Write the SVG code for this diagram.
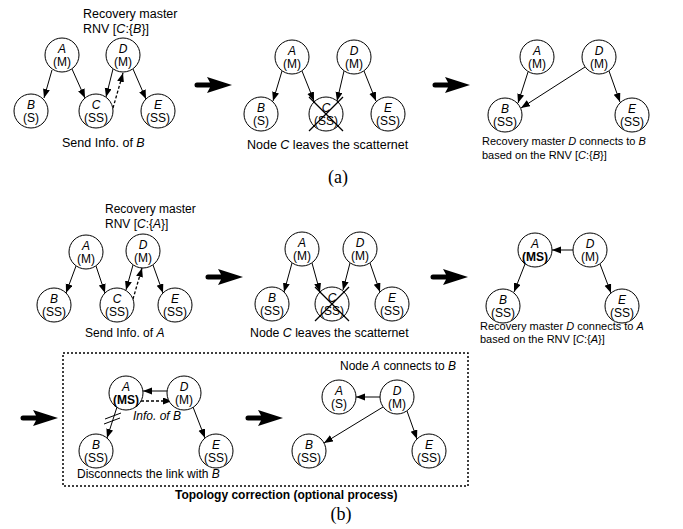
<svg xmlns="http://www.w3.org/2000/svg" xmlns:xlink="http://www.w3.org/1999/xlink" width="683" height="529" viewBox="0 0 683 529">
<style>
  text { font-family: "Liberation Sans", Arial, sans-serif; font-size: 12px; fill: #000; }
  .node circle { fill: #fff; stroke: #000; stroke-width: 1; }
  .node text { text-anchor: middle; }
  .it { font-style: italic; }
  .b { font-weight: bold; }
  .edge { stroke: #000; stroke-width: 1; fill: none; marker-end: url(#ah); }
  .dash { stroke: #000; stroke-width: 1.3; fill: none; stroke-dasharray: 3 2; marker-end: url(#ah); }
  .plain { stroke: #000; stroke-width: 1; fill: none; }
  .big { fill: #000; }
  .cap { font-family: "Liberation Serif", "Times New Roman", serif; font-size: 18px; text-anchor: middle; }
</style>
<defs>
  <marker id="ah" markerUnits="userSpaceOnUse" markerWidth="10" markerHeight="8" refX="9" refY="3.5" orient="auto">
    <path d="M0,0 L9,3.5 L0,7 z" fill="#000"/>
  </marker>
  <path id="bigarrow" d="M0,0 L-25,-8 L-22,-2.5 L-35,-2.5 A2.5,2.5 0 0 0 -35,2.5 L-22,2.5 L-25,8 Z"/>
</defs>

<rect width="683" height="529" fill="#fff"/>

<!-- connectors -->
<g id="connectors">
  <!-- a1 -->
  <line class="edge" x1="52" y1="70" x2="44" y2="98"/>
  <line class="edge" x1="72" y1="69" x2="85" y2="98"/>
  <line class="edge" x1="113" y1="69" x2="106" y2="97"/>
  <line class="edge" x1="133" y1="69" x2="146" y2="99"/>
  <line class="dash" x1="113" y1="108" x2="123" y2="73"/>
  <!-- a2 -->
  <line class="edge" x1="282" y1="71" x2="273" y2="101"/>
  <line class="edge" x1="302" y1="71" x2="314" y2="101"/>
  <line class="edge" x1="344" y1="71" x2="337" y2="101"/>
  <line class="edge" x1="364" y1="71" x2="376" y2="101"/>
  <!-- a3 -->
  <line class="edge" x1="528" y1="72" x2="518" y2="103"/>
  <line class="edge" x1="585" y1="67" x2="521" y2="108"/>
  <line class="edge" x1="609" y1="71" x2="620" y2="102"/>
  <!-- b1 -->
  <line class="edge" x1="76" y1="266" x2="66" y2="293"/>
  <line class="edge" x1="96" y1="266" x2="105" y2="293"/>
  <line class="edge" x1="133" y1="265" x2="126" y2="290"/>
  <line class="edge" x1="153" y1="265" x2="163" y2="293"/>
  <line class="dash" x1="133" y1="299" x2="142" y2="268"/>
  <!-- b2 -->
  <line class="edge" x1="292" y1="263" x2="284" y2="292"/>
  <line class="edge" x1="312" y1="263" x2="320" y2="292"/>
  <line class="edge" x1="350" y1="263" x2="343" y2="290"/>
  <line class="edge" x1="370" y1="263" x2="380" y2="292"/>
  <!-- b3 -->
  <line class="edge" x1="573" y1="250" x2="552" y2="250"/>
  <line class="edge" x1="525" y1="264" x2="514" y2="292"/>
  <line class="edge" x1="600" y1="264" x2="611" y2="293"/>
  <!-- b4 -->
  <line class="edge" x1="167" y1="391" x2="143" y2="391"/>
  <line class="dash" x1="141" y1="401" x2="172" y2="401"/>
  <line class="edge" x1="117" y1="407" x2="107" y2="438"/>
  <line class="plain" x1="105" y1="419" x2="121" y2="413"/>
  <line class="plain" x1="104" y1="424" x2="120" y2="418"/>
  <line class="edge" x1="193" y1="407" x2="205" y2="438"/>
  <!-- b5 -->
  <line class="edge" x1="380" y1="397" x2="356" y2="397"/>
  <line class="edge" x1="383" y1="407" x2="324" y2="443"/>
  <line class="edge" x1="407" y1="411" x2="417" y2="439"/>
</g>

<!-- big step arrows -->
<g id="step-arrows" class="big">
  <use xlink:href="#bigarrow" href="#bigarrow" x="232" y="85"/>
  <use xlink:href="#bigarrow" href="#bigarrow" x="470" y="85"/>
  <use xlink:href="#bigarrow" href="#bigarrow" x="243" y="277"/>
  <use xlink:href="#bigarrow" href="#bigarrow" x="468" y="277"/>
  <use xlink:href="#bigarrow" href="#bigarrow" x="58" y="418"/>
  <use xlink:href="#bigarrow" href="#bigarrow" x="283" y="418"/>
</g>

<!-- ===== (a) panel 1 ===== -->
<g id="a1-A" class="node"><circle cx="62" cy="55" r="17"/><text x="62" y="53" class="it">A</text><text x="62" y="66">(M)</text></g>
<g id="a1-D" class="node"><circle cx="123" cy="55" r="17"/><text x="123" y="53" class="it">D</text><text x="123" y="66">(M)</text></g>
<g id="a1-B" class="node"><circle cx="31" cy="111" r="17"/><text x="31" y="109" class="it">B</text><text x="31" y="122">(S)</text></g>
<g id="a1-C" class="node"><circle cx="96" cy="111" r="17"/><text x="96" y="109" class="it">C</text><text x="96" y="122">(SS)</text></g>
<g id="a1-E" class="node"><circle cx="158" cy="111" r="17"/><text x="158" y="109" class="it">E</text><text x="158" y="122">(SS)</text></g>
<text x="83" y="18" style="font-size:12.5px">Recovery master</text>
<text x="83" y="33" style="font-size:12.5px">RNV [<tspan class="it">C</tspan>:{<tspan class="it">B</tspan>}]</text>
<text x="62" y="147" style="font-size:12.5px">Send Info. of <tspan class="it">B</tspan></text>

<!-- ===== (a) panel 2 ===== -->
<g id="a2-A" class="node"><circle cx="292" cy="57" r="17"/><text x="292" y="55" class="it">A</text><text x="292" y="68">(M)</text></g>
<g id="a2-D" class="node"><circle cx="354" cy="57" r="17"/><text x="354" y="55" class="it">D</text><text x="354" y="68">(M)</text></g>
<g id="a2-B" class="node"><circle cx="261" cy="114" r="17"/><text x="261" y="112" class="it">B</text><text x="261" y="125">(S)</text></g>
<g id="a2-C" class="node"><circle cx="326" cy="114" r="17"/><text x="326" y="112" class="it">C</text><text x="326" y="125">(SS)</text>
  <line class="plain" x1="309" y1="97" x2="343" y2="131" style="stroke-width:1.3"/>
  <line class="plain" x1="343" y1="97" x2="309" y2="131" style="stroke-width:1.3"/></g>
<g id="a2-E" class="node"><circle cx="388" cy="114" r="17"/><text x="388" y="112" class="it">E</text><text x="388" y="125">(SS)</text></g>
<text x="247" y="149" style="font-size:12.5px">Node <tspan class="it">C</tspan> leaves the scatternet</text>

<!-- ===== (a) panel 3 ===== -->
<g id="a3-A" class="node"><circle cx="537" cy="57" r="17"/><text x="537" y="55" class="it">A</text><text x="537" y="68">(M)</text></g>
<g id="a3-D" class="node"><circle cx="599" cy="57" r="17"/><text x="599" y="55" class="it">D</text><text x="599" y="68">(M)</text></g>
<g id="a3-B" class="node"><circle cx="505" cy="115" r="17"/><text x="505" y="113" class="it">B</text><text x="505" y="126">(SS)</text></g>
<g id="a3-E" class="node"><circle cx="632" cy="115" r="17"/><text x="632" y="113" class="it">E</text><text x="632" y="126">(SS)</text></g>
<text x="482" y="145" style="font-size:11px">Recovery master <tspan class="it">D</tspan> connects to <tspan class="it">B</tspan></text>
<text x="482" y="159" style="font-size:11px">based on the RNV [<tspan class="it">C</tspan>:{<tspan class="it">B</tspan>}]</text>

<text class="cap" x="338" y="183">(a)</text>

<!-- ===== (b) panel 1 ===== -->
<g id="b1-A" class="node"><circle cx="86" cy="252" r="17"/><text x="86" y="250" class="it">A</text><text x="86" y="263">(M)</text></g>
<g id="b1-D" class="node"><circle cx="143" cy="251" r="17"/><text x="143" y="249" class="it">D</text><text x="143" y="262">(M)</text></g>
<g id="b1-B" class="node"><circle cx="54" cy="305" r="17"/><text x="54" y="303" class="it">B</text><text x="54" y="316">(SS)</text></g>
<g id="b1-C" class="node"><circle cx="117" cy="305" r="17"/><text x="117" y="303" class="it">C</text><text x="117" y="316">(SS)</text></g>
<g id="b1-E" class="node"><circle cx="175" cy="305" r="17"/><text x="175" y="303" class="it">E</text><text x="175" y="316">(SS)</text></g>
<text x="105" y="213">Recovery master</text>
<text x="105" y="228">RNV [<tspan class="it">C</tspan>:{<tspan class="it">A</tspan>}]</text>
<text x="85" y="337">Send Info. of <tspan class="it">A</tspan></text>

<!-- ===== (b) panel 2 ===== -->
<g id="b2-A" class="node"><circle cx="302" cy="249" r="17"/><text x="302" y="247" class="it">A</text><text x="302" y="260">(M)</text></g>
<g id="b2-D" class="node"><circle cx="360" cy="249" r="17"/><text x="360" y="247" class="it">D</text><text x="360" y="260">(M)</text></g>
<g id="b2-B" class="node"><circle cx="272" cy="304" r="17"/><text x="272" y="302" class="it">B</text><text x="272" y="315">(SS)</text></g>
<g id="b2-C" class="node"><circle cx="332" cy="304" r="17"/><text x="332" y="302" class="it">C</text><text x="332" y="315">(SS)</text>
  <line class="plain" x1="315" y1="287" x2="349" y2="321" style="stroke-width:1.3"/>
  <line class="plain" x1="349" y1="287" x2="315" y2="321" style="stroke-width:1.3"/></g>
<g id="b2-E" class="node"><circle cx="392" cy="304" r="17"/><text x="392" y="302" class="it">E</text><text x="392" y="315">(SS)</text></g>
<text x="250" y="337" style="font-size:12.3px">Node <tspan class="it">C</tspan> leaves the scatternet</text>

<!-- ===== (b) panel 3 ===== -->
<g id="b3-A" class="node"><circle cx="535" cy="250" r="17"/><text x="535" y="248" class="it">A</text><text x="535" y="261" class="b">(MS)</text></g>
<g id="b3-D" class="node"><circle cx="590" cy="250" r="17"/><text x="590" y="248" class="it">D</text><text x="590" y="261">(M)</text></g>
<g id="b3-B" class="node"><circle cx="503" cy="306" r="17"/><text x="503" y="304" class="it">B</text><text x="503" y="317">(SS)</text></g>
<g id="b3-E" class="node"><circle cx="622" cy="306" r="17"/><text x="622" y="304" class="it">E</text><text x="622" y="317">(SS)</text></g>
<text x="480" y="330" style="font-size:11px">Recovery master <tspan class="it">D</tspan> connects to <tspan class="it">A</tspan></text>
<text x="480" y="343" style="font-size:11px">based on the RNV [<tspan class="it">C</tspan>:{<tspan class="it">A</tspan>}]</text>

<!-- ===== Topology correction box ===== -->
<rect x="63" y="353" width="405" height="133" fill="none" stroke="#000" stroke-width="1.5" stroke-dasharray="2 2"/>

<!-- (b) panel 4 -->
<g id="b4-A" class="node"><circle cx="126" cy="393" r="17"/><text x="126" y="391" class="it">A</text><text x="126" y="404" class="b">(MS)</text></g>
<g id="b4-D" class="node"><circle cx="184" cy="393" r="17"/><text x="184" y="391" class="it">D</text><text x="184" y="404">(M)</text></g>
<g id="b4-B" class="node"><circle cx="96" cy="451" r="17"/><text x="96" y="449" class="it">B</text><text x="96" y="462">(SS)</text></g>
<g id="b4-E" class="node"><circle cx="216" cy="451" r="17"/><text x="216" y="449" class="it">E</text><text x="216" y="462">(SS)</text></g>
<text x="133" y="420" class="it">Info. of B</text>
<text x="77" y="478">Disconnects the link with <tspan class="it">B</tspan></text>

<!-- (b) panel 5 -->
<g id="b5-A" class="node"><circle cx="339" cy="397" r="17"/><text x="339" y="395" class="it">A</text><text x="339" y="408">(S)</text></g>
<g id="b5-D" class="node"><circle cx="397" cy="397" r="17"/><text x="397" y="395" class="it">D</text><text x="397" y="408">(M)</text></g>
<g id="b5-B" class="node"><circle cx="309" cy="451" r="17"/><text x="309" y="449" class="it">B</text><text x="309" y="462">(SS)</text></g>
<g id="b5-E" class="node"><circle cx="429" cy="451" r="17"/><text x="429" y="449" class="it">E</text><text x="429" y="462">(SS)</text></g>
<text x="340" y="370">Node <tspan class="it">A</tspan> connects to <tspan class="it">B</tspan></text>

<text x="175" y="499" class="b">Topology correction (optional process)</text>
<text class="cap" x="341" y="520">(b)</text>
</svg>
